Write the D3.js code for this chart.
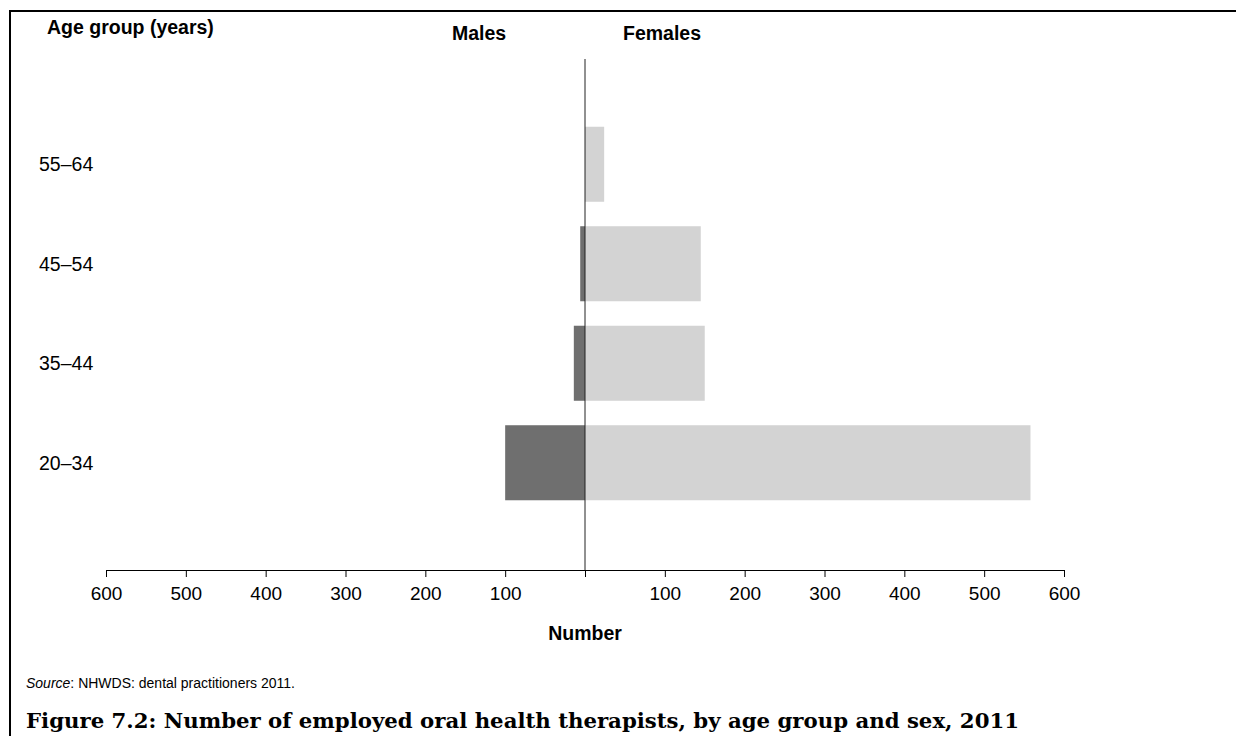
<!DOCTYPE html>
<html>
<head>
<meta charset="utf-8">
<script src="https://cdn.jsdelivr.net/npm/d3@7"></script>
<style>
  html, body { margin: 0; padding: 0; background: #fff; }
  svg { display: block; }
</style>
</head>
<body>
<svg id="chart" width="1236" height="736"></svg>
<script>
const categories = ["20–34", "35–44", "45–54", "55–64"];
const males = [100, 14, 6, 0];
const females = [558, 150, 145, 24];
const tickValues = [-600, -500, -400, -300, -200, -100, 0, 100, 200, 300, 400, 500, 600];

const svg = d3.select("#chart");
const font = "Arial, 'Liberation Sans', sans-serif";

// frame
svg.append("line").attr("x1", 9).attr("x2", 1236).attr("y1", 11).attr("y2", 11)
  .attr("stroke", "#000").attr("stroke-width", 2);
svg.append("line").attr("x1", 10).attr("x2", 10).attr("y1", 10).attr("y2", 736)
  .attr("stroke", "#000").attr("stroke-width", 2);

const x = d3.scaleLinear().domain([-600, 600]).range([106, 1064]);
const y = d3.scaleBand().domain(categories.slice().reverse())
  .range([114.5, 512.5]).paddingInner(0.246).paddingOuter(0.123);

const rows = categories.map((c, i) => ({cat: c, m: males[i], f: females[i]}));

svg.append("g").selectAll("rect").data(rows).join("rect")
  .attr("x", d => x(-d.m)).attr("width", d => x(0) - x(-d.m))
  .attr("y", d => y(d.cat)).attr("height", y.bandwidth())
  .attr("fill", "#6f6f6f");
svg.append("g").selectAll("rect").data(rows).join("rect")
  .attr("x", x(0)).attr("width", d => x(d.f) - x(0))
  .attr("y", d => y(d.cat)).attr("height", y.bandwidth())
  .attr("fill", "#d3d3d3");

// axis
const axis = d3.axisBottom(x).tickValues(tickValues)
  .tickFormat(d => d === 0 ? "" : Math.abs(d))
  .tickSize(7).tickSizeOuter(0).tickPadding(10);
const ag = svg.append("g").attr("transform", "translate(0,570)").call(axis);
ag.select(".domain").attr("stroke", "#000");
ag.selectAll(".tick line").attr("stroke", "#000");
ag.selectAll("text").attr("font-family", font).attr("font-size", 19).attr("fill", "#000");

// centre line
svg.append("line").attr("x1", x(0)).attr("x2", x(0)).attr("y1", 59).attr("y2", 570)
  .attr("stroke", "#222").attr("stroke-width", 1);

// category labels
svg.append("g").selectAll("text").data(categories).join("text")
  .attr("x", 39).attr("y", d => y(d) + y.bandwidth() / 2)
  .attr("dy", "0.35em")
  .attr("font-family", font).attr("font-size", 19.5).attr("fill", "#000")
  .text(d => d);

// headers
svg.append("text").attr("x", 47).attr("y", 34)
  .attr("font-family", font).attr("font-size", 19.5).attr("font-weight", "bold")
  .text("Age group (years)");
svg.append("text").attr("x", 479).attr("y", 40).attr("text-anchor", "middle")
  .attr("font-family", font).attr("font-size", 19.5).attr("font-weight", "bold")
  .text("Males");
svg.append("text").attr("x", 662).attr("y", 40).attr("text-anchor", "middle")
  .attr("font-family", font).attr("font-size", 19.5).attr("font-weight", "bold")
  .text("Females");
svg.append("text").attr("x", x(0)).attr("y", 640).attr("text-anchor", "middle")
  .attr("font-family", font).attr("font-size", 19.5).attr("font-weight", "bold")
  .text("Number");

// source
const src = svg.append("text").attr("x", 26).attr("y", 688)
  .attr("font-family", font).attr("font-size", 14);
src.append("tspan").attr("font-style", "italic").text("Source");
src.append("tspan").text(": NHWDS: dental practitioners 2011.");

// title
svg.append("text").attr("x", 26).attr("y", 728)
  .attr("font-family", "'DejaVu Serif', serif")
  .attr("font-size", 20).attr("font-weight", "bold")
  .attr("textLength", 993).attr("lengthAdjust", "spacingAndGlyphs")
  .text("Figure 7.2: Number of employed oral health therapists, by age group and sex, 2011");
</script>
</body>
</html>
